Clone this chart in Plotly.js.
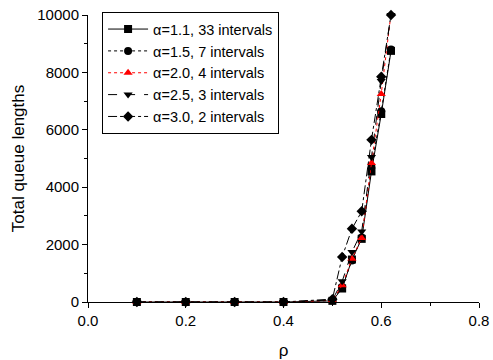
<!DOCTYPE html>
<html>
<head>
<meta charset="utf-8">
<script src="https://cdn.plot.ly/plotly-3.0.1.min.js"></script>
<style>html,body{margin:0;padding:0;background:#fff;}#chart{width:493px;height:360px;}</style>
</head>
<body>
<div id="chart"></div>
<script>
const rho = [0.1, 0.2, 0.3, 0.4, 0.5, 0.52, 0.54, 0.56, 0.58, 0.60, 0.62];
const seriesNames = ["\u03b1=1.1, 33 intervals", "\u03b1=1.5, 7 intervals", "\u03b1=2.0, 4 intervals", "\u03b1=2.5, 3 intervals", "\u03b1=3.0, 2 intervals"];
const q11 = [0, 0, 0, 0, 40, 470, 1480, 2200, 4550, 6550, 8750];
const q15 = [0, 0, 0, 0, 50, 520, 1450, 2250, 4700, 6650, 8800];
const q20 = [0, 0, 0, 0, 60, 580, 1510, 2230, 4840, 7250, 10050];
const q25 = [0, 0, 0, 0, 70, 720, 1740, 2460, 5050, 7700, 10000];
const q30 = [0, 0, 0, 0, 100, 1570, 2550, 3160, 5650, 7850, 10000];

const styles = [
  {color: "#000", dash: "solid", symbol: "square"},
  {color: "#000", dash: "dot", symbol: "circle"},
  {color: "#ff0000", dash: "dot", symbol: "triangle-up"},
  {color: "#000", dash: "dash", symbol: "triangle-down"},
  {color: "#000", dash: "dashdot", symbol: "diamond"}
];
const ys = [q11, q15, q20, q25, q30];

const traces = ys.map((y, i) => ({
  x: rho, y: y, name: seriesNames[i], type: "scatter", mode: "lines+markers",
  cliponaxis: false,
  line: {color: styles[i].color, width: 1, dash: styles[i].dash},
  marker: {symbol: styles[i].symbol, color: styles[i].color, size: 8}
}));

const font = {family: "Liberation Sans, Arial, sans-serif", color: "#000"};
const layout = {
  width: 493, height: 360,
  margin: {l: 88, r: 14, t: 15, b: 58},
  paper_bgcolor: "#fff", plot_bgcolor: "#fff",
  font: Object.assign({size: 13}, font),
  showlegend: true,
  legend: {
    x: 0.036, y: 1.01, xanchor: "left", yanchor: "top",
    bordercolor: "#000", borderwidth: 1, bgcolor: "#fff",
    font: Object.assign({size: 14.5}, font),
    tracegroupgap: 0, itemwidth: 40
  },
  xaxis: {
    range: [0, 0.8], dtick: 0.2, tick0: 0, tickformat: ".1f",
    showgrid: false, zeroline: false, showline: true, linecolor: "#000", linewidth: 1,
    ticks: "outside", ticklen: 5, tickcolor: "#000",
    minor: {dtick: 0.1, ticks: "outside", ticklen: 3, tickcolor: "#000", showgrid: false},
    tickfont: Object.assign({size: 15}, font),
    title: {text: "\u03c1", font: Object.assign({size: 17}, font), standoff: 16}
  },
  yaxis: {
    range: [0, 10000], dtick: 2000, tick0: 0, tickformat: "d",
    showgrid: false, zeroline: false, showline: true, linecolor: "#000", linewidth: 1,
    ticks: "outside", ticklen: 5, tickcolor: "#000",
    minor: {dtick: 1000, ticks: "outside", ticklen: 3, tickcolor: "#000", showgrid: false},
    tickfont: Object.assign({size: 15}, font),
    title: {text: "Total queue lengths", font: Object.assign({size: 17}, font), standoff: 8}
  }
};

Plotly.newPlot("chart", traces, layout, {staticPlot: true, displayModeBar: false});
</script>
</body>
</html>
